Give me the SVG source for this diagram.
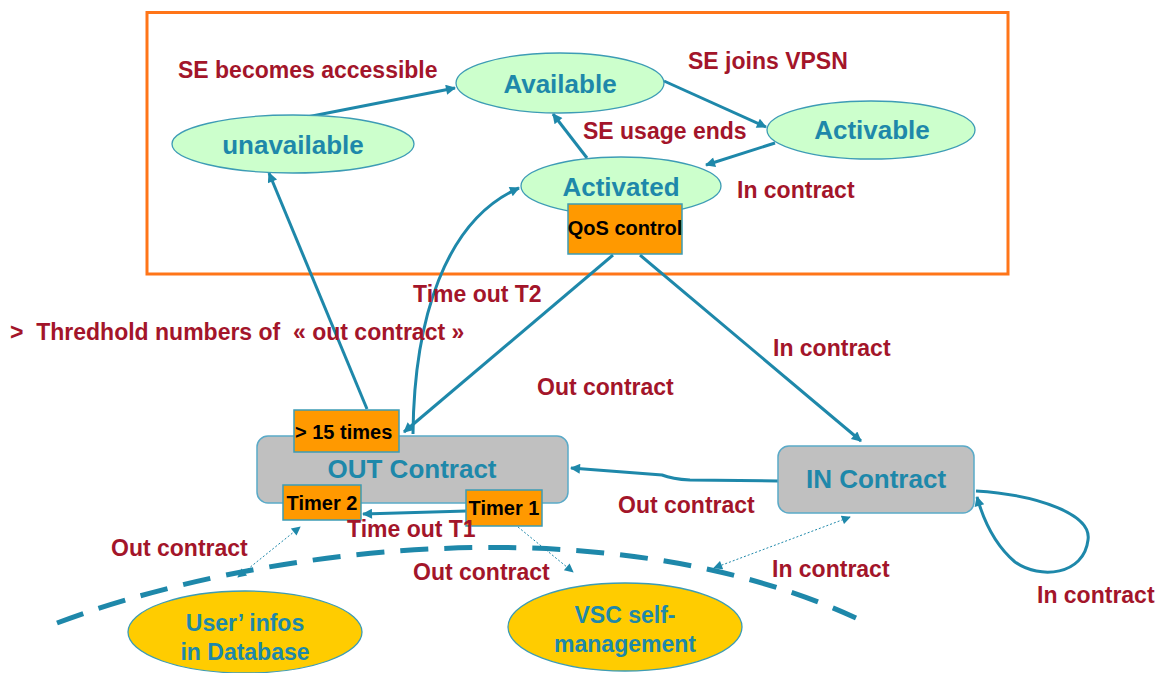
<svg xmlns="http://www.w3.org/2000/svg" width="1162" height="673" viewBox="0 0 1162 673">
<style>
.lbl{font-family:"Liberation Sans",Arial,sans-serif;font-weight:bold;font-size:23px;fill:#A3152A}
.nt{font-family:"Liberation Sans",Arial,sans-serif;font-weight:bold;font-size:26px;fill:#1E88AA;text-anchor:middle}
.yt{font-family:"Liberation Sans",Arial,sans-serif;font-weight:bold;font-size:23px;fill:#1E88AA;text-anchor:middle}
.bt{font-family:"Liberation Sans",Arial,sans-serif;font-weight:bold;font-size:20px;fill:#000;text-anchor:middle}
.ell{fill:#CCFFCC;stroke:#3D9CB5;stroke-width:1.3}
.yel{fill:#FFCC00;stroke:#3D9CB5;stroke-width:1.3}
.box{fill:#FF9900;stroke:#3D9CB5;stroke-width:1.5}
.gray{fill:#C0C0C0;stroke:#5AAAC8;stroke-width:1.5}
.c{fill:none;stroke:#1E88AA;stroke-width:3;marker-end:url(#ah)}
.d{fill:none;stroke:#1E88AA;stroke-width:1;stroke-dasharray:2 2;marker-end:url(#sh)}
</style>
<defs>
<marker id="ah" viewBox="0 0 10 10" refX="9" refY="5" markerWidth="13" markerHeight="10" markerUnits="userSpaceOnUse" orient="auto"><path d="M0,0 L10,5 L0,10 z" fill="#1E88AA"/></marker>
<marker id="sh" viewBox="0 0 10 10" refX="9" refY="5" markerWidth="12" markerHeight="9" markerUnits="userSpaceOnUse" orient="auto-start-reverse"><path d="M0,0 L10,5 L0,10 z" fill="#1E88AA"/></marker>
</defs>
<rect x="0" y="0" width="1162" height="673" fill="#fff"/>
<rect id="frame" x="147" y="12.5" width="861" height="261.5" fill="none" stroke="#FF7518" stroke-width="3"/>
<path id="boundary" d="M57,623 C250,550 600,500 856,618" fill="none" stroke="#1E88AA" stroke-width="5" stroke-dasharray="28 16"/>

<g id="connectors">
<path class="c" d="M307,117 L455,88"/>
<path class="c" d="M664,81 L766,127"/>
<path class="c" d="M775,143 L706,165"/>
<path class="c" d="M587,158 L553,114"/>
<path class="c" d="M367,409 L269,173"/>
<path class="c" d="M413,434 C414,320 445,220 519,188"/>
<path class="c" d="M613,255 L404,432"/>
<path class="c" d="M640,255 L861,441"/>
<path class="c" d="M778,481 L690,480 Q672,479 662,475 L571,468"/>
<path class="c" d="M976,491 C1040,495 1092,515 1088,540 C1084,575 1040,580 1015,562 C995,545 984,522 977,497"/>
<path class="c" d="M467,511 L363,514"/>
<path class="d" style="marker-start:url(#sh)" d="M238,577 L300,527"/>
<path class="d" d="M518,527 L573,572"/>
<path class="d" style="marker-start:url(#sh)" d="M714,568 L850,517"/>
</g>

<g id="unavailable"><ellipse class="ell" cx="293" cy="144" rx="121" ry="29"/><text class="nt" x="293" y="154">unavailable</text></g>
<g id="available"><ellipse class="ell" cx="560" cy="83" rx="104" ry="30"/><text class="nt" x="560" y="93">Available</text></g>
<g id="activable"><ellipse class="ell" cx="871" cy="130" rx="104" ry="29"/><text class="nt" x="872" y="139">Activable</text></g>
<g id="activated"><ellipse class="ell" cx="621" cy="186" rx="100" ry="29"/><text class="nt" x="621" y="196">Activated</text></g>
<g id="qos"><rect class="box" x="568" y="204" width="114" height="50"/><text class="bt" x="625" y="235">QoS control</text></g>

<g id="out-contract"><rect class="gray" x="257" y="436" width="311" height="67" rx="11"/><text class="nt" x="412" y="478">OUT Contract</text></g>
<g id="times15"><rect class="box" x="294" y="410" width="105" height="42"/><text class="bt" x="295" y="439" style="text-anchor:start">&gt; 15 times</text></g>
<g id="timer2"><rect class="box" x="283" y="485" width="78" height="35"/><text class="bt" x="322" y="510">Timer 2</text></g>
<g id="timer1"><rect class="box" x="466" y="490" width="76" height="36"/><text class="bt" x="504" y="515">Timer 1</text></g>
<g id="in-contract"><rect class="gray" x="778" y="446" width="196" height="67" rx="11"/><text class="nt" x="876" y="488">IN Contract</text></g>

<g id="users"><ellipse class="yel" cx="245" cy="632" rx="117" ry="41"/><text class="yt" x="245" y="631">User’ infos</text><text class="yt" x="245" y="660">in Database</text></g>
<g id="vsc"><ellipse class="yel" cx="625" cy="627" rx="117" ry="44"/><text class="yt" x="625" y="623">VSC self-</text><text class="yt" x="625" y="652">management</text></g>

<g id="labels">
<text class="lbl" x="178" y="78">SE becomes accessible</text>
<text class="lbl" x="688" y="69">SE joins VPSN</text>
<text class="lbl" x="583" y="139">SE usage ends</text>
<text class="lbl" x="737" y="198">In contract</text>
<text class="lbl" x="413" y="302">Time out T2</text>
<text class="lbl" x="10" y="340" xml:space="preserve">&gt;  Thredhold numbers of  « out contract »</text>
<text class="lbl" x="773" y="356">In contract</text>
<text class="lbl" x="537" y="395">Out contract</text>
<text class="lbl" x="618" y="513">Out contract</text>
<text class="lbl" x="347" y="537">Time out T1</text>
<text class="lbl" x="111" y="556">Out contract</text>
<text class="lbl" x="413" y="580">Out contract</text>
<text class="lbl" x="772" y="577">In contract</text>
<text class="lbl" x="1037" y="603">In contract</text>
</g>
</svg>
